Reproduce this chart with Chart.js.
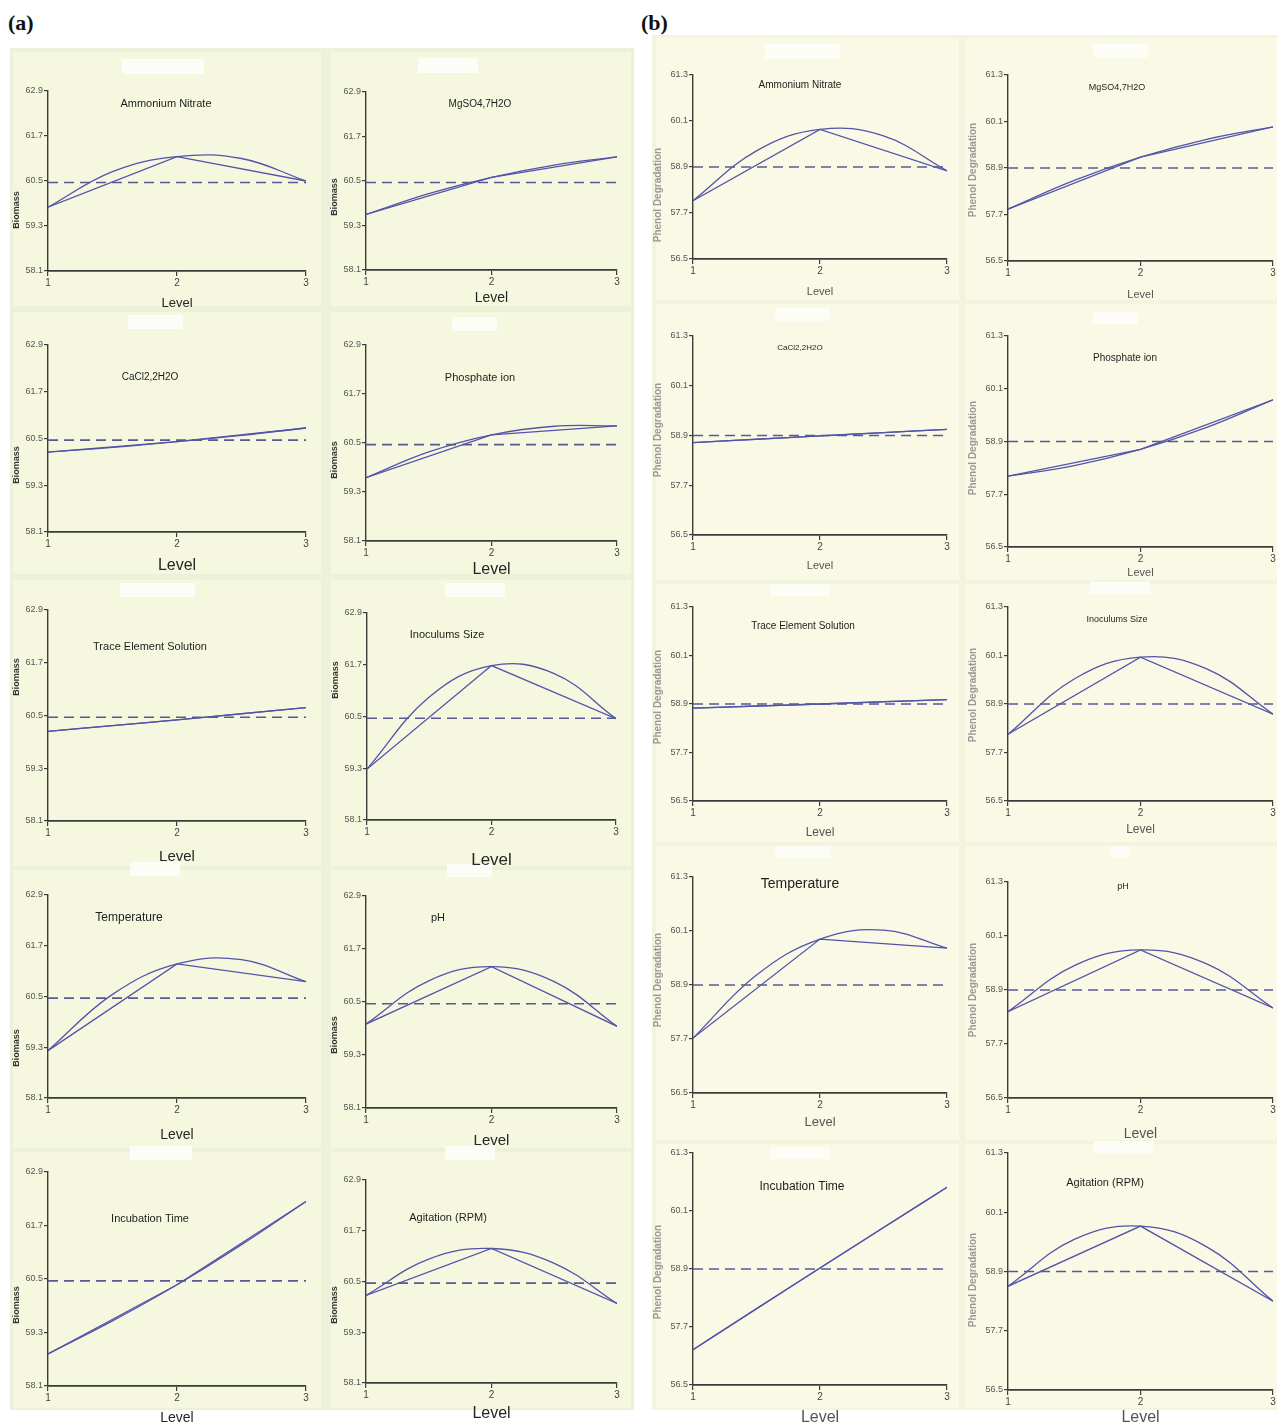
<!DOCTYPE html>
<html>
<head>
<meta charset="utf-8">
<script src="https://cdn.jsdelivr.net/npm/chart.js@4.4.1/dist/chart.umd.min.js"></script>
<style>
  body { margin: 0; background: #fff; }
  #page { position: relative; width: 1277px; height: 1427px; overflow: hidden; }
  #backs { position: absolute; left: 0; top: 0; width: 1277px; height: 1427px; }
  .bg { position: absolute; }
  canvas { position: absolute; }
  .tag { position: absolute; font-family: 'Liberation Serif', 'DejaVu Serif', serif; font-weight: bold; font-size: 22px; color: #111; }
</style>
</head>
<body>
<div id="page">
  <div id="backs"></div>
  <div class="tag" style="left:8px;top:10px">(a)</div>
  <div class="tag" style="left:641px;top:10px">(b)</div>
</div>
<script>
// ---- data ----
const levels = [1, 2, 3];
const curveLevels = [1, 1.5, 2, 2.5, 3];

const factors = ['Ammonium Nitrate', 'MgSO4,7H2O', 'CaCl2,2H2O', 'Phosphate ion', 'Trace Element Solution',
  'Inoculums Size', 'Temperature', 'pH', 'Incubation Time', 'Agitation (RPM)'];

const biomassTicks = [58.1, 59.3, 60.5, 61.7, 62.9];
const phenolTicks = [56.5, 57.7, 58.9, 60.1, 61.3];
const biomassGrand = 60.46;
const phenolGrand = 58.9;

// mean response at level 1,2,3 (straight segments)
const biomassMeans = [
  [59.8, 61.15, 60.5], [59.6, 60.6, 61.15], [60.15, 60.42, 60.77], [59.65, 60.7, 60.92], [60.14, 60.4, 60.68],
  [59.28, 61.68, 60.45], [59.22, 61.27, 60.85], [60.0, 61.3, 59.95], [58.82, 60.37, 62.24], [60.17, 61.28, 59.98]
];
// fitted curve read at level 1, 1.5, 2, 2.5, 3
const biomassCurve = [
  [59.8, 60.75, 61.15, 61.1, 60.5], [59.6, 60.16, 60.6, 60.93, 61.15], [60.15, 60.27, 60.42, 60.58, 60.77],
  [59.65, 60.28, 60.7, 60.91, 60.92], [60.14, 60.27, 60.4, 60.54, 60.68], [59.28, 60.95, 61.68, 61.5, 60.45],
  [59.22, 60.55, 61.27, 61.37, 60.85], [60.0, 60.98, 61.3, 60.96, 59.95], [58.82, 59.56, 60.37, 61.27, 62.24],
  [60.17, 61.03, 61.28, 60.93, 59.98]
];
const phenolMeans = [
  [58.02, 59.88, 58.8], [57.84, 59.18, 59.96], [58.73, 58.89, 59.05], [58.11, 58.72, 59.85], [58.8, 58.9, 59.01],
  [58.15, 60.06, 58.65], [57.72, 59.92, 59.72], [58.42, 59.79, 58.5], [57.23, 58.92, 60.59], [58.6, 59.82, 58.3]
];
const phenolCurve = [
  [58.02, 59.32, 59.88, 59.71, 58.8], [57.84, 58.58, 59.18, 59.64, 59.96], [58.73, 58.81, 58.89, 58.97, 59.05],
  [58.11, 58.35, 58.72, 59.22, 59.85], [58.8, 58.85, 58.9, 58.96, 59.01], [58.15, 59.52, 60.06, 59.77, 58.65],
  [57.72, 59.12, 59.92, 60.12, 59.72], [58.42, 59.44, 59.79, 59.48, 58.5], [57.23, 58.08, 58.92, 59.76, 60.59],
  [58.6, 59.55, 59.82, 59.4, 58.3]
];

// ---- page layout (pixels) ----
// [x of level 1, x of level 3, top of y axis, bottom of y axis, "Level" y, title x, title y, title size, y-name y, level size]
const boxesA = [
  [48, 306, 91, 271, 303, 166, 104, 11, 210, 13], [366, 617, 92, 270, 298, 480, 104, 10, 197, 14],
  [48, 306, 345, 532, 566, 150, 377, 10, 465, 16], [366, 617, 345, 541, 570, 480, 378, 11, 460, 16],
  [48, 306, 610, 821, 857, 150, 647, 11, 677, 15], [367, 616, 613, 820, 860, 447, 635, 11, 680, 17],
  [48, 306, 895, 1098, 1135, 129, 918, 12, 1048, 14], [366, 617, 896, 1108, 1141, 438, 918, 11, 1035, 15],
  [48, 306, 1172, 1386, 1418, 150, 1219, 11, 1305, 14], [366, 617, 1180, 1383, 1414, 448, 1218, 11, 1305, 16]
];
const boxesB = [
  [693, 947, 75, 259, 292, 800, 85, 10, 195, 11], [1008, 1273, 75, 261, 295, 1117, 88, 9, 170, 11],
  [693, 947, 336, 535, 566, 800, 348, 8, 430, 11], [1008, 1273, 336, 547, 573, 1125, 358, 10, 448, 11],
  [693, 947, 607, 801, 833, 803, 626, 10, 697, 12], [1008, 1273, 607, 801, 830, 1117, 620, 9, 695, 12],
  [693, 947, 877, 1093, 1122, 800, 884, 14, 980, 13], [1008, 1273, 882, 1098, 1134, 1123, 887, 9, 990, 14],
  [693, 947, 1153, 1385, 1418, 802, 1187, 12, 1272, 16], [1008, 1273, 1153, 1390, 1418, 1105, 1183, 11, 1280, 16]
];

// backgrounds, painted in order: [x, y, w, h, colour]
const backs = [
  [10, 48, 624, 1362, '#eef1d9'], [652, 35, 625, 1375, '#f2f4de'],
  [13, 52, 308, 254, '#f6f7df'], [331, 52, 300, 254, '#f6f7df'],
  [13, 312, 308, 262, '#f6f7df'], [331, 312, 300, 262, '#f6f7df'],
  [13, 580, 308, 286, '#f6f7df'], [331, 580, 300, 286, '#f6f7df'],
  [13, 870, 308, 278, '#f6f7df'], [331, 870, 300, 278, '#f6f7df'],
  [13, 1152, 308, 256, '#f6f7df'], [331, 1152, 300, 256, '#f6f7df'],
  [656, 38, 303, 262, '#f9f9e5'], [966, 38, 311, 262, '#f9f9e5'],
  [656, 304, 303, 276, '#f9f9e5'], [966, 304, 311, 276, '#f9f9e5'],
  [656, 584, 303, 258, '#f9f9e5'], [966, 584, 311, 258, '#f9f9e5'],
  [656, 846, 303, 294, '#f9f9e5'], [966, 846, 311, 294, '#f9f9e5'],
  [656, 1144, 303, 264, '#f9f9e5'], [966, 1144, 311, 264, '#f9f9e5'],
  // blanked label patches
  [122, 59, 82, 15, '#fdfdf7'], [418, 58, 60, 15, '#fdfdf7'], [128, 315, 55, 14, '#fdfdf7'], [452, 317, 45, 14, '#fdfdf7'],
  [120, 583, 75, 14, '#fdfdf7'], [445, 583, 60, 14, '#fdfdf7'], [130, 862, 50, 14, '#fdfdf7'], [447, 864, 45, 13, '#fdfdf7'],
  [130, 1146, 62, 14, '#fdfdf7'], [445, 1146, 50, 14, '#fdfdf7'],
  [765, 44, 75, 15, '#fdfdf7'], [1093, 44, 55, 14, '#fdfdf7'], [775, 308, 55, 13, '#fdfdf7'], [1093, 312, 45, 12, '#fdfdf7'],
  [770, 584, 60, 12, '#fdfdf7'], [1090, 582, 60, 12, '#fdfdf7'], [775, 846, 55, 12, '#fdfdf7'], [1110, 846, 20, 12, '#fdfdf7'],
  [770, 1147, 60, 12, '#fdfdf7'], [1093, 1141, 60, 12, '#fdfdf7']
];

const page = document.getElementById('page');
const backsDiv = document.getElementById('backs');
const narrow = "'Liberation Sans Narrow', 'Liberation Sans', sans-serif";

backs.forEach(b => {
  const d = document.createElement('div');
  d.className = 'bg';
  d.style.left = b[0] + 'px'; d.style.top = b[1] + 'px';
  d.style.width = b[2] + 'px'; d.style.height = b[3] + 'px';
  d.style.background = b[4];
  backsDiv.appendChild(d);
});

// draws titles, axis names and "Level" at fixed spots
const textPlugin = {
  id: 'texts',
  afterDraw(chart, args, opts) {
    const c = chart.ctx;
    opts.items.forEach(t => {
      c.save();
      c.font = t.font;
      c.fillStyle = t.color;
      c.textAlign = 'center';
      c.textBaseline = 'middle';
      c.translate(t.x, t.y);
      if (t.rot) c.rotate(-Math.PI / 2);
      c.fillText(t.text, 0, 0);
      c.restore();
    });
  }
};

function makeChart(i, panel) {
  const isA = panel === 'a';
  const box = isA ? boxesA[i] : boxesB[i];
  const [x1, x3, top, bot, levelY, titleX, titleY, titleSize, yNameY, levelSize] = box;
  const ticks = isA ? biomassTicks : phenolTicks;
  const grand = isA ? biomassGrand : phenolGrand;
  const means = isA ? biomassMeans[i] : phenolMeans[i];
  const curve = isA ? biomassCurve[i] : phenolCurve[i];

  const padL = 46, padR = 14, padT = 12;
  const left = x1 - padL, ctop = top - padT;
  const w = x3 - x1 + padL + padR;
  const h = levelY + 14 - ctop;
  const padB = h - padT - (bot - top);
  const yNameX = isA ? x1 - 31 : x1 - 35;

  const cv = document.createElement('canvas');
  cv.width = w; cv.height = h;
  cv.style.left = left + 'px'; cv.style.top = ctop + 'px';
  page.appendChild(cv);

  const items = [
    { text: factors[i], x: titleX - left, y: titleY - ctop, font: titleSize + 'px ' + narrow, color: '#1e1e1e' },
    { text: 'Level', x: (x1 + x3) / 2 - left, y: levelY - ctop, font: levelSize + 'px ' + narrow,
      color: isA ? '#262626' : '#555' },
    isA
      ? { text: 'Biomass', x: yNameX - left, y: yNameY - ctop, font: 'bold 9px ' + narrow, color: '#333', rot: true }
      : { text: 'Phenol Degradation', x: yNameX - left, y: yNameY - ctop, font: 'bold 10px ' + narrow, color: '#999', rot: true }
  ];

  new Chart(cv, {
    type: 'line',
    data: {
      datasets: [
        { data: [{ x: 1, y: grand }, { x: 3, y: grand }], borderColor: '#555a94', borderWidth: 1.7,
          borderDash: [10, 6], pointRadius: 0 },
        { data: levels.map((x, k) => ({ x: x, y: means[k] })), borderColor: '#5353aa', borderWidth: 1.3,
          tension: 0, pointRadius: 0 },
        { data: curveLevels.map((x, k) => ({ x: x, y: curve[k] })), borderColor: '#5353aa', borderWidth: 1.3,
          tension: 0.4, pointRadius: 0 }
      ]
    },
    options: {
      responsive: false,
      animation: false,
      events: [],
      layout: { padding: { left: 0, right: padR, top: padT, bottom: 0 } },
      plugins: { legend: { display: false }, tooltip: { enabled: false }, texts: { items: items } },
      scales: {
        x: {
          type: 'linear', min: 1, max: 3,
          afterBuildTicks: s => { s.ticks = levels.map(v => ({ value: v })); },
          afterFit: s => { s.height = padB; },
          ticks: { callback: v => String(v), font: { size: 10, family: narrow }, color: '#444', padding: 1 },
          grid: { drawOnChartArea: false, tickLength: 5, color: '#3c3c3c', lineWidth: 1.2 },
          border: { color: '#3c3c3c', width: 1.8 }
        },
        y: {
          type: 'linear', min: ticks[0], max: ticks[ticks.length - 1],
          afterBuildTicks: s => { s.ticks = ticks.map(v => ({ value: v })); },
          afterFit: s => { s.width = padL; },
          ticks: { callback: v => v.toFixed(1), font: { size: 9, family: narrow }, color: '#555', padding: 1 },
          grid: { drawOnChartArea: false, tickLength: 4, color: '#3c3c3c', lineWidth: 1.2 },
          border: { color: '#3c3c3c', width: 1.4 }
        }
      }
    },
    plugins: [textPlugin]
  });
}

for (let i = 0; i < factors.length; i++) {
  makeChart(i, 'a');
  makeChart(i, 'b');
}
</script>
</body>
</html>
